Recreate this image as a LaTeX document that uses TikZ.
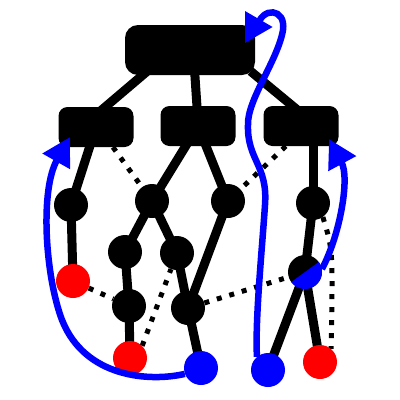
\documentclass[tikz,border=0pt]{standalone}
\usetikzlibrary{arrows.meta,backgrounds}
\begin{document}
\begin{tikzpicture}[x=1pt,y=-1pt,
  boxnode/.style={fill=black,rounded corners=9pt,minimum width=75pt,minimum height=40pt,inner sep=0pt},
  topnode/.style={boxnode,minimum width=130pt,minimum height=50pt,rounded corners=13pt},
  dotnode/.style={circle,fill=#1,minimum size=34pt,inner sep=0pt},
  treeedge/.style={line width=9pt,shorten <=-6pt,shorten >=-6pt},
  dotedge/.style={line width=5pt,dash pattern=on 5pt off 8pt},
  flow/.style={blue,line width=6.5pt,-{Triangle[length=28pt,width=30pt]}}]
\useasboundingbox (0,0) rectangle (400,400);
% nodes
\node[topnode] (top) at (190,50) {};
\node[boxnode] (lb) at (96,127) {};
\node[boxnode] (mb) at (198,126) {};
\node[boxnode] (rb) at (301,126) {};
\node[dotnode=black] (A) at (71,205) {};
\node[dotnode=black] (B) at (152,201) {};
\node[dotnode=black] (C) at (228,201) {};
\node[dotnode=black] (D) at (313,203) {};
\node[dotnode=black] (E) at (125,252) {};
\node[dotnode=black] (F) at (177,253) {};
\node[dotnode=black] (G) at (305,272) {};
\node[dotnode=red] (R1) at (73,281) {};
\node[dotnode=black] (H) at (129,306) {};
\node[dotnode=black] (I) at (188,308) {};
\node[dotnode=red] (R2) at (130,358) {};
\node[dotnode=blue] (B1) at (201,368) {};
\node[dotnode=blue] (B2) at (268,370) {};
\node[dotnode=red] (R3) at (320,362) {};
\coordinate (lbin) at (70,137);
\coordinate (rbin) at (329,139);
\coordinate (topin) at (273,27);
\begin{pgfonlayer}{background}
\fill[white] (0,0) rectangle (400,400);
% tree edges
\draw[treeedge] (top.-152) -- (lb.65);
\draw[treeedge] (top.-79) -- (mb.93);
\draw[treeedge] (top.-21) -- (rb.113);
\draw[treeedge] (lb.center) -- (A.center);
\draw[treeedge] (mb.center) -- (B.center);
\draw[treeedge] (mb.center) -- (C.center);
\draw[treeedge] (D.center) -- (D.center |- rb.center);
\draw[treeedge] (A.center) -- (R1.center);
\draw[treeedge] (B.center) -- (E.center);
\draw[treeedge] (B.center) -- (F.center);
\draw[treeedge] (E.center) -- (H.center);
\draw[treeedge] (F.center) -- (I.center);
\draw[treeedge] (C.center) -- (I.center);
\draw[treeedge] (H.center) -- (R2.center);
\draw[treeedge] (I.center) -- (B1.center);
\draw[treeedge] (D.center) -- (G.center);
\draw[treeedge] (G.center) -- (B2.center);
\draw[treeedge] (G.center) -- (R3.center);
% dotted edges
\draw[dotedge] (lb.-50) -- (B.center);
\draw[dotedge] (rb.-127) -- (C.center);
\draw[dotedge] (D.-55) .. controls (333,250) .. (R3.50);
\draw[dotedge] (R1) -- (H);
\draw[dotedge] (R2.45) -- (F);
\draw[dotedge] (I) -- (G);
\end{pgfonlayer}
% split node
\fill[blue] (G.center) ++(-36:17) arc[start angle=-36,end angle=144,radius=17] -- cycle;
% blue flows
\draw[flow] (B1.200) .. controls (150,382) and (85,378) .. (62,320) .. controls (45,275) and (40,190) .. (lbin);
\draw[flow] (G.10) .. controls (340,235) and (350,178) .. (rbin);
\draw[flow] (B2.130) .. controls (255,320) and (262,250) .. (265,205) .. controls (268,165) and (247,160) .. (248,125) .. controls (247,100) and (278,60) .. (283,30) .. controls (286,8) and (262,6) .. (257,27) -- (topin);
\end{tikzpicture}
\end{document}
